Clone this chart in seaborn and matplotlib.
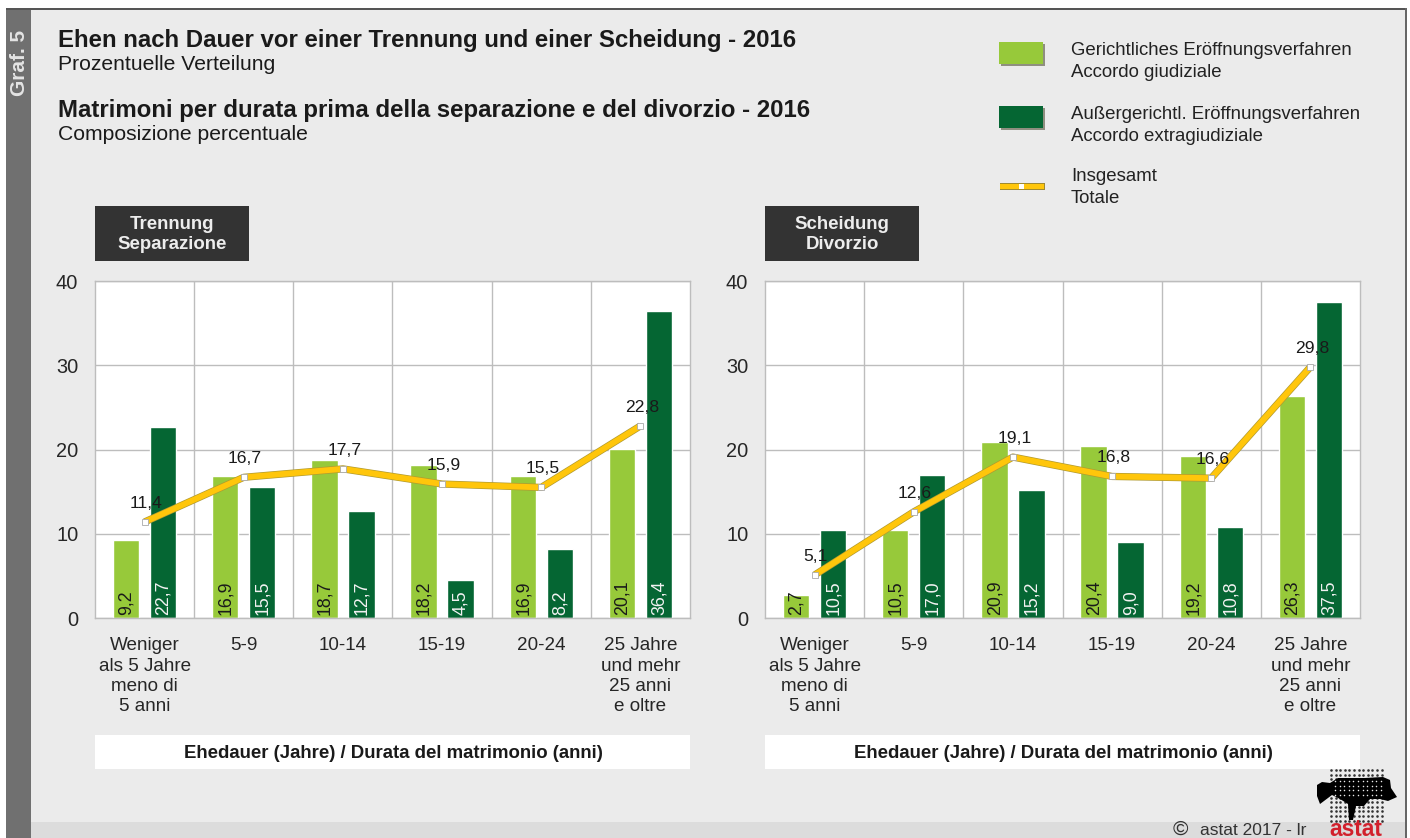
import numpy as np
import pandas as pd
import seaborn as sns
import matplotlib.pyplot as plt
import matplotlib.patheffects as pe
from matplotlib.patches import Rectangle, Polygon

categories = ['Weniger\nals 5 Jahre\nmeno di\n5 anni', '5-9', '10-14', '15-19', '20-24',
              '25 Jahre\nund mehr\n25 anni\ne oltre']
sep_court = [9.2, 16.9, 18.7, 18.2, 16.9, 20.1]
sep_out = [22.7, 15.5, 12.7, 4.5, 8.2, 36.4]
sep_total = [11.4, 16.7, 17.7, 15.9, 15.5, 22.8]
div_court = [2.7, 10.5, 20.9, 20.4, 19.2, 26.3]
div_out = [10.5, 17.0, 15.2, 9.0, 10.8, 37.5]
div_total = [5.1, 12.6, 19.1, 16.8, 16.6, 29.8]

LIGHT = '#97C93A'
DARK = '#056633'
YELLOW = '#FFC60B'
BG = '#EBEBEB'
W, H = 1410, 838

sns.set_theme(style='white')
plt.rcParams['font.family'] = ['Liberation Sans', 'DejaVu Sans']
plt.rcParams['text.color'] = '#1a1a1a'

fig = plt.figure(figsize=(W / 100, H / 100), dpi=100, facecolor='white')

# fond and frame, drawn in pixel coordinates
bg = fig.add_axes([0, 0, 1, 1], zorder=0)
bg.set_xlim(0, W)
bg.set_ylim(H, 0)
bg.axis('off')
bg.add_patch(Rectangle((6, 8), 1399, 830, fc=BG, ec='none'))
bg.add_patch(Rectangle((6, 8), 1399, 2, fc='#555555', ec='none'))
bg.add_patch(Rectangle((1405, 8), 2, 830, fc='#666666', ec='none'))
bg.add_patch(Rectangle((6, 10), 25, 828, fc='#707070', ec='none'))
bg.add_patch(Rectangle((31, 822), 1374, 16, fc='#DCDCDC', ec='none'))
bg.text(19.5, 63, 'Graf. 5', rotation=90, color='#E4E4E4', fontsize=15, fontweight='bold',
        ha='center', va='center')

bg.text(58, 40, 'Ehen nach Dauer vor einer Trennung und einer Scheidung - 2016',
        fontsize=17.3, fontweight='bold', va='center')
bg.text(58, 65, 'Prozentuelle Verteilung', fontsize=15.2, va='center')
bg.text(58, 110, 'Matrimoni per durata prima della separazione e del divorzio - 2016',
        fontsize=17.3, fontweight='bold', va='center')
bg.text(58, 134, 'Composizione percentuale', fontsize=15.2, va='center')

# legend
for y, col, txt in [(42, LIGHT, 'Gerichtliches Eröffnungsverfahren\nAccordo giudiziale'),
                    (106, DARK, 'Außergerichtl. Eröffnungsverfahren\nAccordo extragiudiziale')]:
    bg.add_patch(Rectangle((1001, y + 2), 44, 22, fc='#8f8f80', ec='none'))
    bg.add_patch(Rectangle((999, y), 44, 22, fc=col, ec='none'))
    bg.text(1071, y + 19.5, txt, fontsize=13.4, va='center', linespacing=1.32, color='#222222')
bg.add_patch(Rectangle((1000, 183), 45, 7, fc='#A08A30', ec='none'))
bg.add_patch(Rectangle((1000, 184), 44, 5, fc=YELLOW, ec='none'))
bg.add_patch(Rectangle((1019, 184), 5, 5, fc='white', ec='none'))
bg.text(1071, 187.5, 'Insgesamt\nTotale', fontsize=13.4, va='center', linespacing=1.32, color='#222222')

# copyright and logo
bg.text(1173, 829, '©', fontsize=15, va='center', color='#333333')
bg.text(1200, 830, 'astat 2017 - lr', fontsize=12.5, va='center', color='#333333')
bg.text(1356, 829, 'astat', fontsize=16.4, fontweight='bold', color='#D2202C', ha='center', va='center')
gx, gy = np.meshgrid(np.arange(1331, 1383, 4.6), np.arange(770, 821, 4.6))
bg.scatter(gx.ravel(), gy.ravel(), s=3.5, color='#333333', linewidths=0)
bg.add_patch(Polygon([(1317, 785), (1322, 782), (1330, 783), (1338, 778), (1350, 778), (1365, 778),
                      (1383, 777), (1390, 780), (1391, 788), (1397, 797), (1388, 801), (1380, 799),
                      (1370, 799), (1364, 806), (1356, 806), (1353, 820), (1349, 820), (1348, 804),
                      (1340, 799), (1332, 795), (1320, 804), (1317, 796)], fc='black', ec='none'))
hx, hy = np.meshgrid(np.arange(1335, 1383, 4.6), np.arange(781, 798, 4.6))
bg.scatter(hx.ravel(), hy.ravel(), s=1.2, color=BG, linewidths=0, zorder=3)


def panel(x0, court, out, total, head):
    bg.add_patch(Rectangle((x0, 206), 154, 55, fc='#333333', ec='none'))
    bg.text(x0 + 77, 234.5, head, color='#EDEDED', fontsize=13.4, fontweight='bold', ha='center',
            va='center', linespacing=1.2)
    bg.add_patch(Rectangle((x0, 735), 595, 34, fc='white', ec='none'))
    bg.text(x0 + 298, 753, 'Ehedauer (Jahre) / Durata del matrimonio (anni)', fontsize=13.4,
            fontweight='bold', ha='center', va='center')

    ax = fig.add_axes([x0 / W, 1 - 618 / H, 595 / W, 337 / H], zorder=1)
    df = pd.DataFrame({'dauer': categories * 2, 'wert': court + out,
                       'art': ['court'] * 6 + ['out'] * 6})
    sns.barplot(data=df, x='dauer', y='wert', hue='art', palette=[LIGHT, DARK], width=0.746, gap=0.284,
                saturation=1, legend=False, ax=ax, zorder=2)
    for cont, col in zip(ax.containers, ['#1a1a1a', '#F2F2F2']):
        for bar, v in zip(cont, cont.datavalues):
            ax.text(bar.get_x() + bar.get_width() / 2 + 0.004, 0.35, f'{v:.1f}'.replace('.', ','),
                    rotation=90, ha='center', va='bottom', fontsize=12.8, color=col, zorder=3)
    # line with its dark edge first, white squares on top
    sns.pointplot(x=categories, y=total, color=YELLOW, markers='s', linewidth=4.2, markersize=0,
                  errorbar=None, ax=ax, zorder=4)
    for ln in ax.lines:
        ln.set_solid_capstyle('butt')
        ln.set_path_effects([pe.Stroke(linewidth=5.2, foreground='#B09A30'), pe.Normal()])
    sns.pointplot(x=categories, y=total, color='white', markers='s', linestyle='none', markersize=5,
                  markeredgecolor='#AAAAAA', markeredgewidth=0.6, errorbar=None, ax=ax, zorder=5)
    for i, v in enumerate(total):
        ax.annotate(f'{v:.1f}'.replace('.', ','), (i, v), xytext=(1, 13.5), textcoords='offset points',
                    ha='center', va='center', fontsize=12.6, zorder=6)

    ax.set_xlim(-0.5, 5.5)
    ax.set_ylim(0, 40)
    ax.set_yticks([0, 10, 20, 30, 40])
    ax.set_xticks(np.arange(0.5, 5), minor=True)
    ax.grid(axis='y', color='#BDBDBD', lw=1, zorder=0)
    ax.grid(axis='x', which='minor', color='#BDBDBD', lw=1, zorder=0)
    ax.set_axisbelow(True)
    ax.set_xlabel('')
    ax.set_ylabel('')
    ax.tick_params(axis='x', which='both', length=0, pad=14, labelsize=13.6)
    ax.tick_params(axis='y', length=0, pad=12, labelsize=14.4)
    for lab in ax.get_xticklabels():
        lab.set_linespacing(1.24)
    for s in ax.spines.values():
        s.set_color('#BDBDBD')
        s.set_linewidth(1)
    return ax


panel(95, sep_court, sep_out, sep_total, 'Trennung\nSeparazione')
panel(765, div_court, div_out, div_total, 'Scheidung\nDivorzio')

fig.savefig('out.png', dpi=100)
